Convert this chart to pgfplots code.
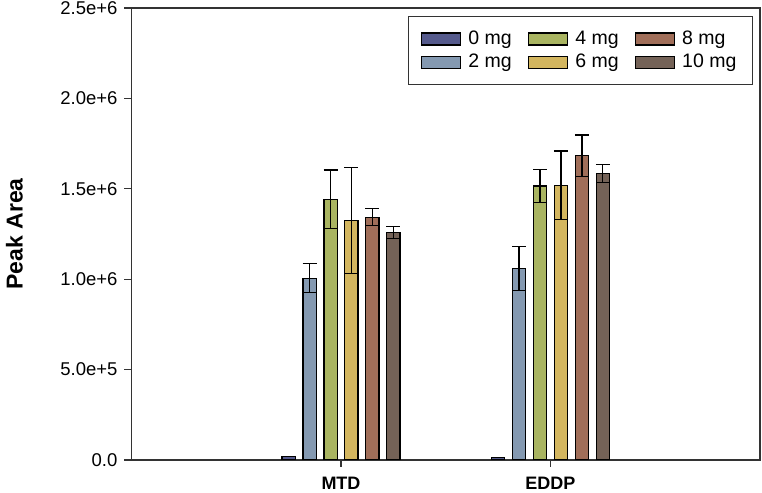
\documentclass[border=0pt]{standalone}
\usepackage{pgfplots}
\pgfplotsset{compat=1.18}
\usepackage{fontspec}
\setmainfont{Liberation Sans}
\definecolor{c0}{HTML}{555A8C}
\definecolor{c2}{HTML}{8499B1}
\definecolor{c4}{HTML}{A9B461}
\definecolor{c6}{HTML}{D3B65F}
\definecolor{c8}{HTML}{A06E59}
\definecolor{c10}{HTML}{746257}
\begin{document}
\begin{tikzpicture}
\begin{axis}[
  at={(0,0)}, anchor=south west,
  scale only axis, width=314.25pt, height=226pt,
  xmin=-1, xmax=2, ymin=0, ymax=2500000,
  axis line style={line width=0.6pt, draw=black!80},
  ybar, bar shift=0pt, bar width=0.063,
  xtick={0,1}, xticklabels={MTD,EDDP},
  ytick={0,500000,1000000,1500000,2000000,2500000},
  yticklabels={0.0,5.0e+5,1.0e+6,1.5e+6,2.0e+6,2.5e+6},
  scaled y ticks=false,
  tick align=outside, major tick length=3.5pt,
  xtick pos=bottom, ytick pos=left,
  tick style={line width=0.6pt, black!80},
  /pgf/number format/assume math mode=true,
  yticklabel style={font=\fontsize{9.25}{11}\selectfont},
  xticklabel style={font=\fontsize{9}{11}\selectfont\bfseries, yshift=-1.5pt},
  every axis y label/.style={at={(axis description cs:0,0.5)}, xshift=-58.5pt, rotate=90, anchor=center, font=\fontsize{11.5}{13}\selectfont\bfseries},
  ylabel={Peak Area},
  legend columns=3,
  legend style={at={(axis description cs:0.9889,0.9823)}, anchor=north east,
    draw=black!80, line width=0.6pt, font=\fontsize{9.75}{11}\selectfont,
    inner xsep=6pt, inner ysep=5pt, row sep=-0.5pt,
    /tikz/every even column/.append style={column sep=6pt}},
  legend cell align=left,
  legend image code/.code={\draw[#1, line width=0.6pt] (0pt,-3pt) rectangle (19.5pt,3pt); \path[draw=none, fill=none] (0pt,0pt) -- (21.5pt,0pt);},
  every axis plot/.append style={draw=black, line width=0.6pt},
  error bars/error bar style={line width=0.6pt, black},
  error bars/error mark options={rotate=90, mark size=3.5pt, line width=0.6pt, black},
]
\addlegendimage{fill=c0, draw=black}\addlegendentry{0 mg}
\addlegendimage{fill=c4, draw=black}\addlegendentry{4 mg}
\addlegendimage{fill=c8, draw=black}\addlegendentry{8 mg}
\addlegendimage{fill=c2, draw=black}\addlegendentry{2 mg}
\addlegendimage{fill=c6, draw=black}\addlegendentry{6 mg}
\addlegendimage{fill=c10, draw=black}\addlegendentry{10 mg}

\addplot[fill=c0, forget plot] coordinates {(-0.25,18000) (0.75,15000)};
\addplot[fill=c2, forget plot, error bars/.cd, y dir=both, y explicit] coordinates {(-0.15,1006000) +- (0,80000) (0.85,1058000) +- (0,121000)};
\addplot[fill=c4, forget plot, error bars/.cd, y dir=both, y explicit] coordinates {(-0.05,1443000) +- (0,161000) (0.95,1516000) +- (0,90000)};
\addplot[fill=c6, forget plot, error bars/.cd, y dir=both, y explicit] coordinates {(0.05,1325000) +- (0,292000) (1.05,1519000) +- (0,190000)};
\addplot[fill=c8, forget plot, error bars/.cd, y dir=both, y explicit] coordinates {(0.15,1343000) +- (0,47000) (1.15,1683000) +- (0,115000)};
\addplot[fill=c10, forget plot, error bars/.cd, y dir=both, y explicit] coordinates {(0.25,1258000) +- (0,32000) (1.25,1584000) +- (0,50000)};
\end{axis}
\pgfresetboundingbox
\path (-65.75pt,-16.5pt) rectangle (315.25pt,230pt);
\end{tikzpicture}
\end{document}
